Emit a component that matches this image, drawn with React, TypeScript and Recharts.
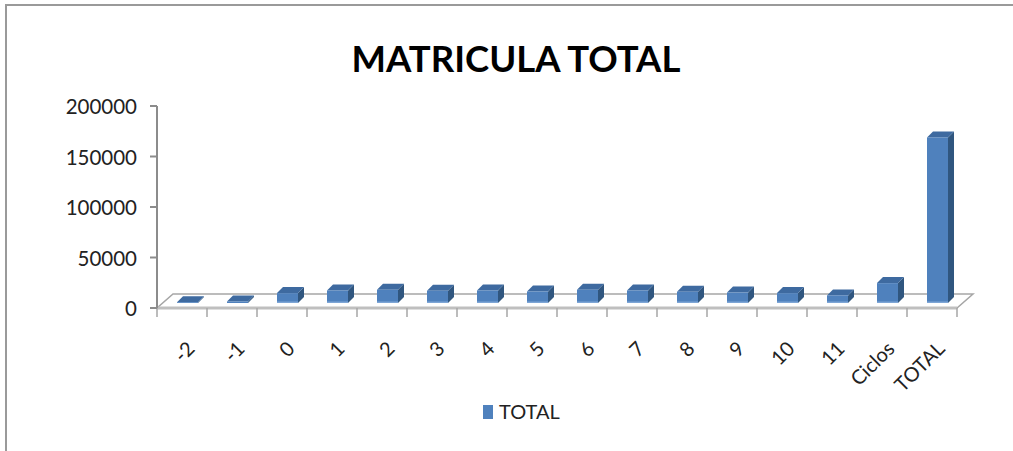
import React from 'react';
import { BarChart, Bar, XAxis, YAxis } from 'recharts';

// ---- data ----
const categories = ['-2', '-1', '0', '1', '2', '3', '4', '5', '6', '7', '8', '9', '10', '11', 'Ciclos', 'TOTAL'];
const totalValues = [800, 1500, 9800, 12400, 13100, 12100, 12400, 11400, 13100, 12400, 11100, 10400, 9800, 7500, 19700, 163900];
const yTicks = [0, 50000, 100000, 150000, 200000];
const seriesName = 'TOTAL';
const chartTitle = 'MATRICULA TOTAL';

const data = categories.map((c, i) => ({ cat: c, [seriesName]: totalValues[i] }));

// ---- layout ----
const W = 1013;
const H = 451;
const PLOT_LEFT = 162;
const PLOT_RIGHT = 962;
const PLOT_TOP = 101;
const PLOT_BOTTOM = 303;
const X_AXIS_H = 30;
const SHIFT = 5; // offset between front plane and bar plane
const FLOOR_DX = 16;
const FLOOR_DY = 14;
const DEPTH = 6;
const FONT = "Lato, 'Open Sans', sans-serif";

const FRONT = '#4F81BD';
const TOP = '#3E6AA0';
const SIDE = '#30567F';
const GRID = '#A6A6A6';

const Bar3D = (props: any) => {
  const { x, y, width, height } = props;
  if (x == null || y == null) return null;
  const h = Math.max(height || 0, 0);
  const w = width;
  const d = DEPTH;
  return (
    <g>
      <polygon
        points={`${x + w},${y} ${x + w + d},${y - d} ${x + w + d},${y + h - d} ${x + w},${y + h}`}
        fill={SIDE}
      />
      <polygon points={`${x},${y} ${x + d},${y - d} ${x + w + d},${y - d} ${x + w},${y}`} fill={TOP} />
      <rect x={x} y={y} width={w} height={h} fill={FRONT} />
      {h > 2 && <rect x={x} y={y + h - 1.5} width={w} height={1.5} fill="#7EA6D6" />}
    </g>
  );
};

const YTick = (props: any) => {
  const { y, payload } = props;
  const fx = PLOT_LEFT - SHIFT;
  const fy = y + SHIFT;
  return (
    <g>
      <line x1={fx - 7} y1={fy} x2={fx} y2={fy} stroke="#8C8C8C" strokeWidth={2} />
      <text x={fx - 20} y={fy} textAnchor="end" dominantBaseline="central" fontSize={20.5} fontFamily={FONT} fill="#222">
        {payload.value}
      </text>
    </g>
  );
};

const XTick = (props: any) => {
  const { x, payload } = props;
  const ax = x - SHIFT + 14;
  const ay = PLOT_BOTTOM + 47;
  return (
    <text
      x={ax}
      y={ay}
      textAnchor="end"
      fontSize={20}
      fontFamily={FONT}
      fill="#222"
      transform={`rotate(-45 ${ax} ${ay})`}
    >
      {payload.value}
    </text>
  );
};

const Background = () => {
  const fl = PLOT_LEFT - SHIFT;
  const fr = PLOT_RIGHT - SHIFT;
  const fb = PLOT_BOTTOM + SHIFT;
  const step = (PLOT_RIGHT - PLOT_LEFT) / categories.length;
  const ticks = [];
  for (let k = 0; k <= categories.length; k++) {
    const tx = fl + k * step;
    ticks.push(<line key={k} x1={tx} y1={fb} x2={tx} y2={fb + 9} stroke={GRID} strokeWidth={1.5} />);
  }
  return (
    <svg width={W} height={H} style={{ position: 'absolute', left: 0, top: 0 }}>
      <rect x={0} y={0} width={W} height={H} fill="#fff" />
      {/* outer frame */}
      <line x1={5} y1={5} x2={W} y2={5} stroke="#9A9A9A" strokeWidth={2} />
      <line x1={6} y1={5} x2={6} y2={H} stroke="#9A9A9A" strokeWidth={2} />
      {/* title */}
      <text x={516} y={72} textAnchor="middle" fontSize={36.5} fontWeight="bold" fontFamily={FONT} fill="#000">
        {chartTitle}
      </text>
      {/* floor */}
      <polygon
        points={`${fl},${fb} ${fr},${fb} ${fr + FLOOR_DX},${fb - FLOOR_DY} ${fl + FLOOR_DX},${fb - FLOOR_DY}`}
        fill="#fff"
        stroke={GRID}
        strokeWidth={1.5}
      />
      <line x1={fl} y1={fb} x2={fr} y2={fb} stroke="#BFBFBF" strokeWidth={3} />
      {/* y axis line */}
      <line x1={fl} y1={PLOT_TOP + SHIFT} x2={fl} y2={fb} stroke="#8C8C8C" strokeWidth={2} />
      {ticks}
      {/* legend */}
      <rect x={483} y={405} width={10} height={14} fill={FRONT} />
      <text x={499} y={419} fontSize={20} fontFamily={FONT} fill="#222">
        {seriesName}
      </text>
    </svg>
  );
};

export default function App() {
  return (
    <div style={{ position: 'absolute', left: 0, top: 0, width: W, height: H }}>
      <Background />
      <div style={{ position: 'absolute', left: 0, top: 0 }}>
        <BarChart
          width={W}
          height={H}
          data={data}
          margin={{ top: PLOT_TOP, right: W - PLOT_RIGHT, bottom: H - PLOT_BOTTOM - X_AXIS_H, left: 0 }}
        >
          <XAxis
            dataKey="cat"
            height={X_AXIS_H}
            axisLine={false}
            tickLine={false}
            interval={0}
            tick={<XTick />}
          />
          <YAxis
            width={PLOT_LEFT}
            domain={[0, 200000]}
            ticks={yTicks}
            axisLine={false}
            tickLine={false}
            tick={<YTick />}
            allowDataOverflow
          />
          <Bar dataKey={seriesName} barSize={21} shape={<Bar3D />} isAnimationActive={false} />
        </BarChart>
      </div>
    </div>
  );
}
